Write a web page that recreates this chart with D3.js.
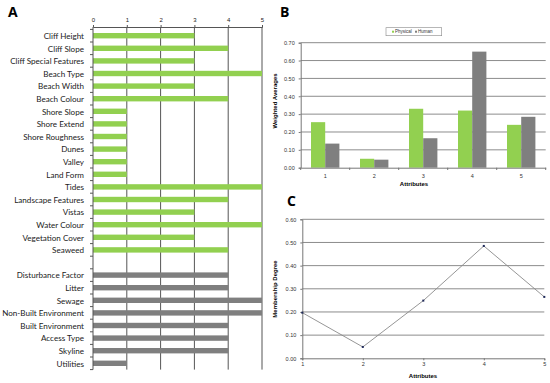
<!DOCTYPE html>
<html>
<head>
<meta charset="utf-8">
<script src="https://cdn.jsdelivr.net/npm/d3@7"></script>
<style>
  body { margin: 0; background: #fff; }
  svg { display: block; }
</style>
</head>
<body>
<div id="chart"></div>
<script>
// panel A data
var physicalNames = ["Cliff Height", "Cliff Slope", "Cliff Special Features", "Beach Type", "Beach Width",
  "Beach Colour", "Shore Slope", "Shore Extend", "Shore Roughness", "Dunes", "Valley", "Land Form",
  "Tides", "Landscape Features", "Vistas", "Water Colour", "Vegetation Cover", "Seaweed"]
var physicalScores = [3, 4, 3, 5, 3, 4, 1, 1, 1, 1, 1, 1, 5, 4, 3, 5, 3, 4]
var humanNames = ["Disturbance Factor", "Litter", "Sewage", "Non-Built Environment", "Built Environment",
  "Access Type", "Skyline", "Utilities"]
var humanScores = [4, 4, 5, 5, 4, 4, 4, 1]
var scoreTicks = [0, 1, 2, 3, 4, 5]

// panel B data
var attributes = ["1", "2", "3", "4", "5"]
var physicalAvg = [0.255, 0.05, 0.33, 0.32, 0.24]
var humanAvg = [0.135, 0.045, 0.165, 0.65, 0.285]
var avgTicks = [0, 0.1, 0.2, 0.3, 0.4, 0.5, 0.6, 0.7]

// panel C data
var membership = [0.197, 0.049, 0.249, 0.485, 0.265]
var memberTicks = [0, 0.1, 0.2, 0.3, 0.4, 0.5, 0.6]

var green = "#92d050"
var grey = "#7f7f7f"
var small = "Liberation Sans, Arial, sans-serif"

var svg = d3.select("#chart").append("svg")
            .attr("width", 550)
            .attr("height", 383)

svg.append("rect").attr("width", 550).attr("height", 383).attr("fill", "#fff")

// panel letters
var letters = [["A", 8, 16.5], ["B", 280, 16.5], ["C", 287, 205.5]]
svg.selectAll("text.letter").data(letters).enter().append("text")
   .attr("class", "letter")
   .attr("x", d => d[1])
   .attr("y", d => d[2])
   .text(d => d[0])
   .attr("font-family", "Open Sans, sans-serif")
   .attr("font-weight", "700")
   .attr("font-size", "14px")
   .attr("fill", "#000")

// ---------- panel A ----------
var rows = physicalNames.map((n, i) => ({name: n, value: physicalScores[i], color: green}))
           .concat([{name: "", value: null}])
           .concat(humanNames.map((n, i) => ({name: n, value: humanScores[i], color: grey})))

var xA = d3.scaleLinear().domain([0, 5]).range([93, 262])
var yA = d3.scaleBand().domain(d3.range(rows.length)).range([29.4, 369.6])

var gA = svg.append("g")

gA.selectAll("line.grid").data(scoreTicks.slice(1)).enter().append("line")
  .attr("x1", d => xA(d)).attr("x2", d => xA(d))
  .attr("y1", 27).attr("y2", 369.6)
  .attr("stroke", "#555").attr("stroke-width", 1)

gA.selectAll("rect.bar").data(rows.filter(d => d.value != null)).enter().append("rect")
  .attr("x", xA(0))
  .attr("y", d => yA(rows.indexOf(d)) + yA.bandwidth() / 2 - 2.7)
  .attr("width", d => xA(d.value) - xA(0))
  .attr("height", 5.4)
  .attr("fill", d => d.color)

var axTop = gA.append("g").attr("transform", "translate(0,27)")
              .call(d3.axisTop(xA).tickValues(scoreTicks).tickSize(2).tickFormat(d3.format("d")))
axTop.select(".domain").attr("stroke", "#555")
axTop.selectAll(".tick line").attr("stroke", "#555")
axTop.selectAll("text").attr("font-family", small).attr("font-size", "6px").attr("fill", "#222")

// left axis with ticks between rows
gA.append("line").attr("x1", 93).attr("x2", 93).attr("y1", 27).attr("y2", 369.6)
  .attr("stroke", "#555")
gA.selectAll("line.rowtick").data(d3.range(rows.length + 1)).enter().append("line")
  .attr("x1", 90).attr("x2", 93)
  .attr("y1", d => 29.4 + d * yA.step()).attr("y2", d => 29.4 + d * yA.step())
  .attr("stroke", "#555")

var cats = gA.selectAll("text.cat").data(rows).enter().append("text")
  .attr("x", 84)
  .attr("y", (d, i) => yA(i) + yA.bandwidth() / 2 + 3.2)
  .attr("text-anchor", "end")
  .text(d => d.name)
  .attr("font-family", "Lato, sans-serif")
  .attr("font-size", "9px")
  .attr("fill", "#222")

// size the labels so the longest one fits the space the reference gives it
var longest = d3.max(cats.nodes(), n => n.getComputedTextLength())
var fs = Math.min(10, 9 * 82 / longest)
cats.attr("font-size", fs + "px")

// ---------- panel B ----------
var xB = d3.scaleBand().domain(attributes).range([300.7, 545.7])
var yB = d3.scaleLinear().domain([0, 0.7]).range([167.7, 42.7])
var gB = svg.append("g")

gB.selectAll("line.grid").data(avgTicks.slice(1)).enter().append("line")
  .attr("x1", 300.7).attr("x2", 545.7)
  .attr("y1", d => yB(d)).attr("y2", d => yB(d))
  .attr("stroke", "#8c8c8c").attr("stroke-width", 1)

var barW = 14.2
gB.selectAll("rect.phys").data(attributes).enter().append("rect")
  .attr("x", d => xB(d) + xB.bandwidth() / 2 - barW)
  .attr("y", (d, i) => yB(physicalAvg[i]))
  .attr("width", barW)
  .attr("height", (d, i) => yB(0) - yB(physicalAvg[i]))
  .attr("fill", green)
gB.selectAll("rect.hum").data(attributes).enter().append("rect")
  .attr("x", d => xB(d) + xB.bandwidth() / 2)
  .attr("y", (d, i) => yB(humanAvg[i]))
  .attr("width", barW)
  .attr("height", (d, i) => yB(0) - yB(humanAvg[i]))
  .attr("fill", grey)

var axBl = gB.append("g").attr("transform", "translate(300.7,0)")
             .call(d3.axisLeft(yB).tickValues(avgTicks).tickSize(2).tickPadding(4).tickFormat(d3.format(".2f")))
var axBb = gB.append("g").attr("transform", "translate(0,167.7)")
             .call(d3.axisBottom(xB).tickSize(0).tickPadding(6))
// tick marks at band edges
gB.selectAll("line.edge").data(d3.range(attributes.length + 1)).enter().append("line")
  .attr("x1", d => 300.7 + d * xB.step()).attr("x2", d => 300.7 + d * xB.step())
  .attr("y1", 167.7).attr("y2", 170)
  .attr("stroke", "#777")

;[axBl, axBb].forEach(function(a) {
  a.select(".domain").attr("stroke", "#777")
  a.selectAll(".tick line").attr("stroke", "#777")
  a.selectAll("text").attr("font-family", small).attr("font-size", "5.5px").attr("fill", "#333")
})

gB.append("text")
  .attr("transform", "translate(277,101) rotate(-90)")
  .attr("text-anchor", "middle")
  .text("Weighted Averages")
  .attr("font-family", small)
  .attr("font-weight", "700").attr("font-size", "6px")
gB.append("text")
  .attr("x", 414).attr("y", 186)
  .attr("text-anchor", "middle")
  .text("Attributes")
  .attr("font-family", small)
  .attr("font-weight", "700").attr("font-size", "6px")

// legend
var legend = gB.append("g").attr("transform", "translate(386,27.7)")
legend.append("rect").attr("width", 55.7).attr("height", 8)
      .attr("fill", "#fff").attr("stroke", "#888").attr("stroke-width", 0.6)
var legItems = [["Physical", green, 6], ["Human", grey, 29]]
legItems.forEach(function(it) {
  legend.append("rect").attr("x", it[2]).attr("y", 3).attr("width", 2).attr("height", 2).attr("fill", it[1])
  legend.append("text").attr("x", it[2] + 3).attr("y", 5.6).text(it[0])
        .attr("font-family", small).attr("font-size", "4.5px").attr("fill", "#333")
})

// ---------- panel C ----------
var xC = d3.scalePoint().domain(attributes).range([302.3, 544.3])
var yC = d3.scaleLinear().domain([0, 0.6]).range([358.3, 219.3])
var gC = svg.append("g")

gC.selectAll("line.grid").data(memberTicks.slice(1)).enter().append("line")
  .attr("x1", 302.3).attr("x2", 544.3)
  .attr("y1", d => yC(d)).attr("y2", d => yC(d))
  .attr("stroke", "#8c8c8c").attr("stroke-width", 1)

var axCl = gC.append("g").attr("transform", "translate(302.3,0)")
             .call(d3.axisLeft(yC).tickValues(memberTicks).tickSize(2).tickPadding(4).tickFormat(d3.format(".2f")))
var axCb = gC.append("g").attr("transform", "translate(0,358.3)")
             .call(d3.axisBottom(xC).tickSize(2).tickPadding(2))
;[axCl, axCb].forEach(function(a) {
  a.select(".domain").attr("stroke", "#777")
  a.selectAll(".tick line").attr("stroke", "#777")
  a.selectAll("text").attr("font-family", small).attr("font-size", "5.5px").attr("fill", "#333")
})

var line = d3.line().x((d, i) => xC(attributes[i])).y(d => yC(d))
gC.append("path").datum(membership)
  .attr("d", line).attr("fill", "none")
  .attr("stroke", "#8a8a8a").attr("stroke-width", 0.9)
gC.selectAll("rect.pt").data(membership).enter().append("rect")
  .attr("x", (d, i) => xC(attributes[i]) - 1)
  .attr("y", d => yC(d) - 1)
  .attr("width", 2).attr("height", 2)
  .attr("fill", "#1f2a5a")

gC.append("text")
  .attr("transform", "translate(277,289) rotate(-90)")
  .attr("text-anchor", "middle")
  .text("Membership Degree")
  .attr("font-family", small)
  .attr("font-weight", "700").attr("font-size", "6px")
gC.append("text")
  .attr("x", 423).attr("y", 378)
  .attr("text-anchor", "middle")
  .text("Attributes")
  .attr("font-family", small)
  .attr("font-weight", "700").attr("font-size", "6px")
</script>
</body>
</html>
